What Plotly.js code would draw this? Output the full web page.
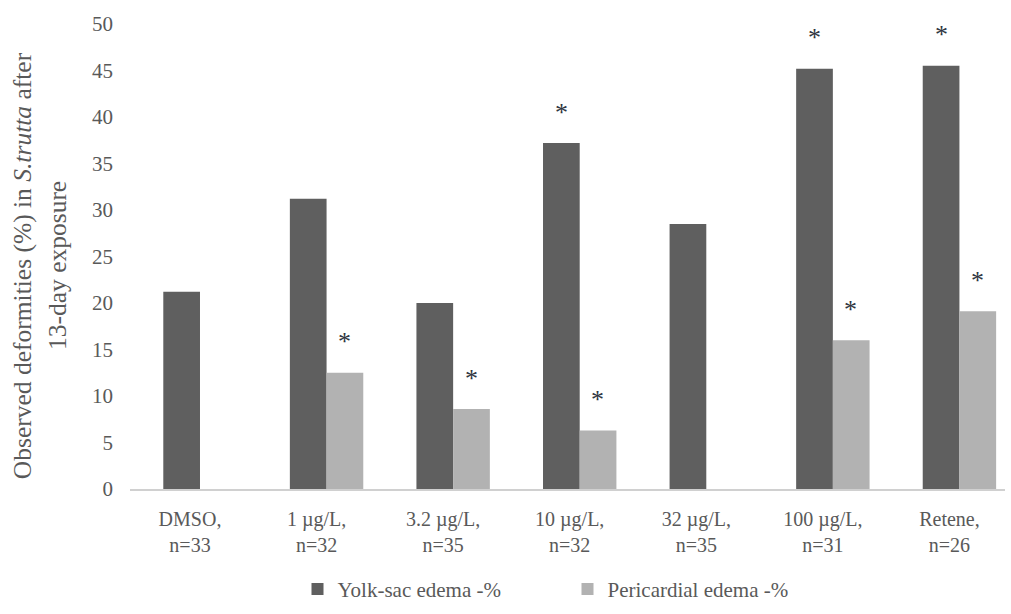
<!DOCTYPE html>
<html><head><meta charset="utf-8">
<script src="https://cdn.plot.ly/plotly-3.0.1.min.js"></script>
<style>html,body{margin:0;padding:0;background:#fff}#chart{width:1011px;height:614px}</style>
</head><body><div id="chart"></div>
<script>
const categories = ["DMSO,<br>n=33","1 µg/L,<br>n=32","3.2 µg/L,<br>n=35","10 µg/L,<br>n=32","32 µg/L,<br>n=35","100 µg/L,<br>n=31","Retene,<br>n=26"];
const yolkSac = [21.2, 31.2, 20.0, 37.2, 28.5, 45.2, 45.5];
const pericardial = [0, 12.5, 8.6, 6.3, 0, 16.0, 19.1];
const yolkSig = [false, false, false, true, false, true, true];
const periSig = [false, true, true, true, false, true, true];
const yTicks = [0,5,10,15,20,25,30,35,40,45,50];

const font = "'Liberation Serif', 'Times New Roman', serif";
const tc = "#595959";

const traces = [
  {type:"bar", name:"Yolk-sac edema -%", x:categories, y:yolkSac, marker:{color:"#5f5f5f"}},
  {type:"bar", name:"Pericardial edema -%", x:categories, y:pericardial, marker:{color:"#b2b2b2"}}
];

const annotations = [];
categories.forEach((c,i)=>{
  if (yolkSig[i]) annotations.push({x:c, y:yolkSac[i], xref:"x", yref:"y", text:"*", showarrow:false, xshift:-18, yshift:31, yanchor:"middle", font:{family:font, size:26, color:"#2e3440"}});
  if (periSig[i]) annotations.push({x:c, y:pericardial[i], xref:"x", yref:"y", text:"*", showarrow:false, xshift:18, yshift:31, yanchor:"middle", font:{family:font, size:26, color:"#2e3440"}});
});
annotations.push({xref:"paper", yref:"paper", x:-0.123, y:0.48, xanchor:"center", yanchor:"middle", showarrow:false, textangle:-90,
  text:"Observed deformities (%) in <i>S.trutta</i> after", font:{family:font, size:25.5, color:tc}});
annotations.push({xref:"paper", yref:"paper", x:-0.082, y:0.48, xanchor:"center", yanchor:"middle", showarrow:false, textangle:-90,
  text:"13-day exposure", font:{family:font, size:25.5, color:tc}});

const layout = {
  width:1011, height:614,
  margin:{l:130, r:6, t:24, b:125},
  paper_bgcolor:"#fff", plot_bgcolor:"#fff",
  barmode:"group", bargap:0.42, bargroupgap:0,
  font:{family:font, size:20, color:tc},
  xaxis:{type:"category", range:[-0.553, 6.36], showline:true, linecolor:"#d0d0d0", linewidth:2, ticks:"", tickfont:{family:font,size:20,color:tc}, ticklabelshift:-10, ticklabelstandoff:11, automargin:false},
  yaxis:{range:[0,50], tickvals:yTicks, showgrid:false, zeroline:false, showline:false, ticks:"", tickfont:{family:font,size:21,color:tc}, ticklabelstandoff:16, automargin:false},
  showlegend:true,
  legend:{orientation:"h", x:0.5, xanchor:"center", xref:"paper", yref:"container", y:0.04, yanchor:"middle", font:{family:font,size:21,color:tc}, entrywidth:225, itemwidth:30},
  annotations:annotations
};
Plotly.newPlot("chart", traces, layout, {displayModeBar:false, staticPlot:true});
</script></body></html>
